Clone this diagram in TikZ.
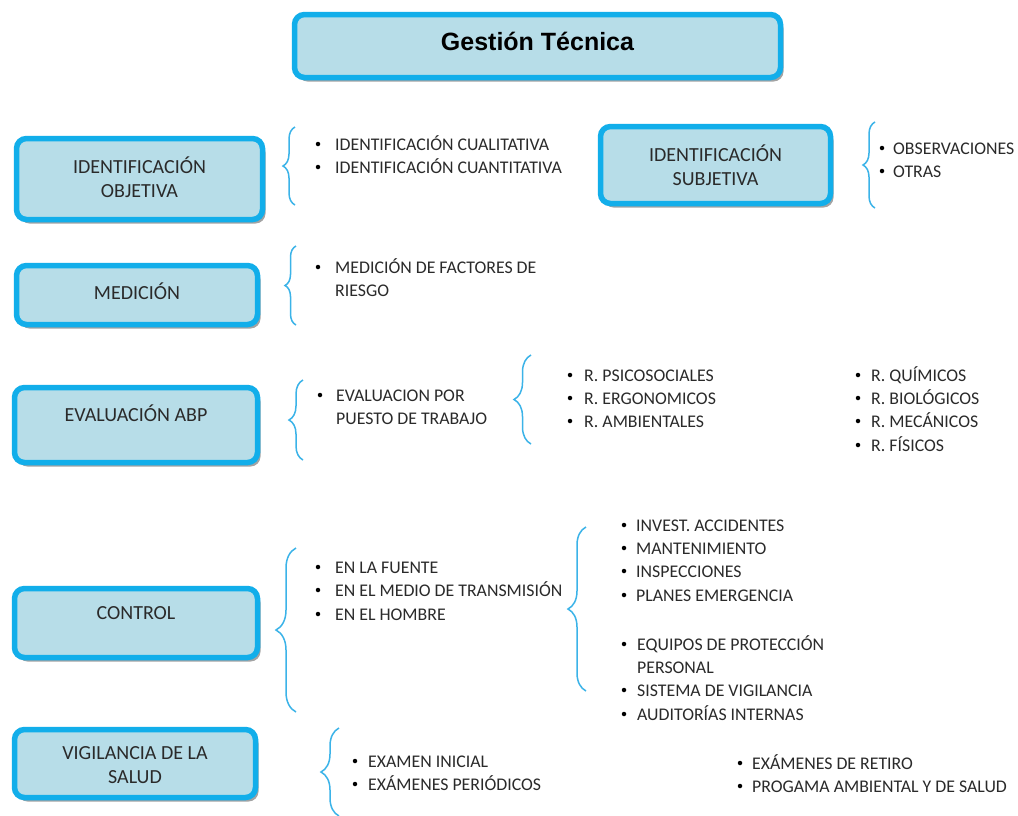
\documentclass[tikz,border=0pt]{standalone}
\usepackage{fontspec}
\setmainfont{Carlito}
\newfontfamily\titlefont{Liberation Sans}
\usetikzlibrary{shadows,decorations.pathreplacing}
\definecolor{boxline}{HTML}{12AEEA}
\definecolor{boxfill}{HTML}{B7DDE8}
\definecolor{bracecol}{HTML}{3BB3E8}
\definecolor{txt}{HTML}{2A2A2A}
\tikzset{
  box/.style={draw=boxline, line width=5.5pt, fill=boxfill, rounded corners=10pt,
    drop shadow={shadow xshift=3pt, shadow yshift=-4pt, fill=black!45, opacity=0.8},
    inner sep=0pt},
  boxtext/.style={font=\fontsize{20}{24}\selectfont, text=txt, align=center, inner sep=0pt},
  itm/.style={anchor=base west, font=\fontsize{17.8}{20}\selectfont, text=txt, inner sep=0pt},
  bul/.style={circle, fill=black, inner sep=0pt, minimum size=4.5pt},
  lbrace/.style={draw=bracecol, line width=1.5pt, decorate, decoration={brace, amplitude=#1}},
}
\newcommand\itm[5]{%
  \node[bul] (#1b) at (#2,#4) {};
  \node[itm] (#1) at (#3,#4+6) {#5};}
\newcommand\itmc[4]{\node[itm] (#1) at (#2,#3+6) {#4};}
\begin{document}
\begin{tikzpicture}[x=1pt,y=-1pt]
\useasboundingbox[fill=white] (0,0) rectangle (1018,815);

% boxes
\node[box, minimum width=486pt, minimum height=63pt] (title) at (537.5,46) {};
\node[font=\titlefont\bfseries\fontsize{25}{28}\selectfont, inner sep=0pt] (titlet) at ([yshift=5pt]title.center) {Gesti\'on T\'ecnica};

\node[box, minimum width=246pt, minimum height=81pt] (obj) at (139.5,179) {};
\node[boxtext] (objt) at ([yshift=1.5pt]obj.center) {IDENTIFICACI\'ON\\OBJETIVA};

\node[box, minimum width=230pt, minimum height=77pt] (subj) at (715.5,165) {};
\node[boxtext] (subjt) at (subj.center) {IDENTIFICACI\'ON\\SUBJETIVA};

\node[box, minimum width=241pt, minimum height=59pt] (med) at (137,295) {};
\node[boxtext] (medt) at ([yshift=4pt]med.center) {MEDICI\'ON};

\node[box, minimum width=243pt, minimum height=75pt] (eva) at (136,425) {};
\node[boxtext] (evat) at ([yshift=12pt]eva.center) {EVALUACI\'ON ABP};

\node[box, minimum width=243pt, minimum height=69pt] (ctl) at (136,623) {};
\node[boxtext] (ctlt) at ([yshift=10pt]ctl.center) {CONTROL};

\node[box, minimum width=241pt, minimum height=68pt] (vig) at (135,763.5) {};
\node[boxtext] (vigt) at ([yshift=-1.5pt]vig.center) {VIGILANCIA DE LA\\SALUD};

% brace end points
\coordinate (b1t) at (295,127); \coordinate (b1b) at (295,205);
\coordinate (b2t) at (875,122); \coordinate (b2b) at (875,208);
\coordinate (b3t) at (296,246); \coordinate (b3b) at (296,325);
\coordinate (b4t) at (303,380); \coordinate (b4b) at (303,460);
\coordinate (b5t) at (531,355); \coordinate (b5b) at (531,444);
\coordinate (b6t) at (296,548); \coordinate (b6b) at (296,712);
\coordinate (b7t) at (586,527); \coordinate (b7b) at (586,691);
\coordinate (b8t) at (339,728); \coordinate (b8b) at (339,816);

\draw[lbrace=12pt] (b1b) -- (b1t);
\draw[lbrace=12pt] (b2b) -- (b2t);
\draw[lbrace=11pt] (b3b) -- (b3t);
\draw[lbrace=14pt] (b4b) -- (b4t);
\draw[lbrace=17pt] (b5b) -- (b5t);
\draw[lbrace=20pt] (b6b) -- (b6t);
\draw[lbrace=18pt] (b7b) -- (b7t);
\draw[lbrace=18pt] (b8b) -- (b8t);

% items
\itm{i1}{318}{335}{144}{IDENTIFICACI\'ON CUALITATIVA}
\itm{i2}{318}{335}{167}{IDENTIFICACI\'ON CUANTITATIVA}
\itm{s1}{882}{893}{148}{OBSERVACIONES}
\itm{s2}{882}{893}{171}{OTRAS}
\itm{m1}{318}{335}{267}{MEDICI\'ON DE FACTORES DE}
\itmc{m2}{335}{290}{RIESGO}
\itm{e1}{320}{336}{395}{EVALUACION POR}
\itmc{e2}{336}{418}{PUESTO DE TRABAJO}
\itm{r1}{570}{584}{375}{R. PSICOSOCIALES}
\itm{r2}{570}{584}{398}{R. ERGONOMICOS}
\itm{r3}{570}{584}{421}{R. AMBIENTALES}
\itm{q1}{858}{871}{375}{R. QU\'IMICOS}
\itm{q2}{858}{871}{398}{R. BIOL\'OGICOS}
\itm{q3}{858}{871}{421}{R. MEC\'ANICOS}
\itm{q4}{858}{871}{445}{R. F\'ISICOS}
\itm{c1}{318}{335}{567}{EN LA FUENTE}
\itm{c2}{318}{335}{590}{EN EL MEDIO DE TRANSMISI\'ON}
\itm{c3}{318}{335}{614}{EN EL HOMBRE}
\itm{a1}{624}{636}{525}{INVEST. ACCIDENTES}
\itm{a2}{624}{636}{548}{MANTENIMIENTO}
\itm{a3}{624}{636}{571}{INSPECCIONES}
\itm{a4}{624}{636}{595}{PLANES EMERGENCIA}
\itm{p1}{624}{637}{644}{EQUIPOS DE PROTECCI\'ON}
\itmc{p2}{637}{667}{PERSONAL}
\itm{p3}{624}{637}{690}{SISTEMA DE VIGILANCIA}
\itm{p4}{624}{637}{714}{AUDITOR\'IAS INTERNAS}
\itm{v1}{355}{368}{761}{EXAMEN INICIAL}
\itm{v2}{355}{368}{784}{EX\'AMENES PERI\'ODICOS}
\itm{v3}{740}{752}{763}{EX\'AMENES DE RETIRO}
\itm{v4}{740}{752}{786}{PROGAMA AMBIENTAL Y DE SALUD}
\end{tikzpicture}
\end{document}
